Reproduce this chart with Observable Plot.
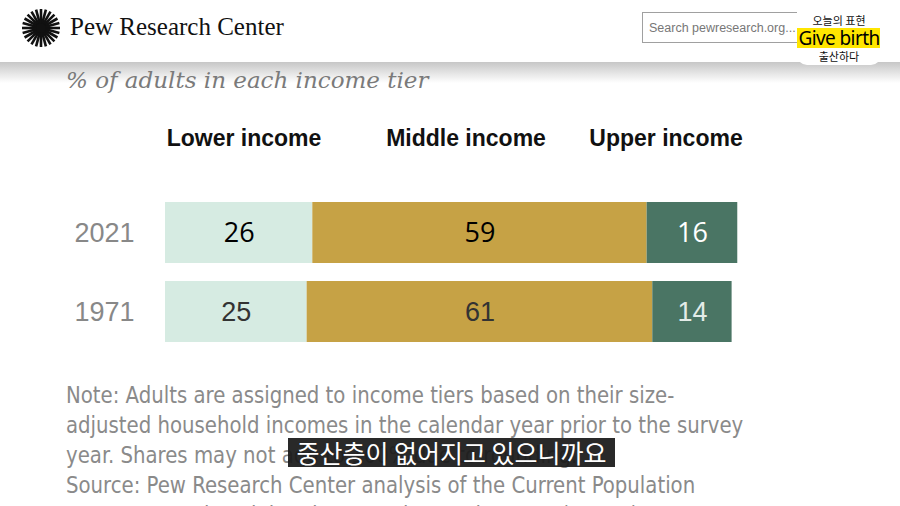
<!DOCTYPE html>
<html>
<head>
<meta charset="utf-8">
<script src="https://cdn.jsdelivr.net/npm/d3@7"></script>
<script src="https://cdn.jsdelivr.net/npm/@observablehq/plot@0.6"></script>
<style>
  html, body { margin:0; padding:0; background:#fff; }
  #page { position:relative; width:900px; height:506px; overflow:hidden; background:#fff; font-family:"Liberation Sans", Arial, sans-serif; }
  .abs { position:absolute; white-space:nowrap; }
  #hdr { position:absolute; left:0; top:0; width:900px; height:62px; background:#fff; }
  #shadow { position:absolute; left:0; top:61px; width:900px; height:22px; background:linear-gradient(#c4c4c4, rgba(255,255,255,0)); }
  .head { position:absolute; top:125px; font-weight:bold; font-size:23px; color:#111; transform:translateX(-50%); white-space:nowrap; }
  .note { position:absolute; left:66px; font-family:"Liberation Sans Narrow","DejaVu Sans Condensed",sans-serif; font-size:23px; line-height:28px; color:#8a8a8a; white-space:nowrap; transform:scaleX(0.953); transform-origin:0 0; }
  #chart { position:absolute; left:0; top:190px; }
</style>
</head>
<body>
<div id="page">
  <div id="shadow"></div>
  <div id="hdr">
    <svg id="logo" class="abs" style="left:21px;top:8px" width="40" height="40" viewBox="-20 -20 40 40"></svg>
    <div class="abs" style="left:70px;top:12px;font-family:'Liberation Serif',serif;font-size:25px;line-height:30px;color:#111;">Pew Research Center</div>
    <div class="abs" style="left:642px;top:12px;width:210px;height:31px;border:1px solid #a0a0a0;box-sizing:border-box;"></div>
    <div class="abs" style="left:649px;top:20px;font-size:12.5px;line-height:16px;color:#777;">Search pewresearch.org...</div>
    <div class="abs" style="left:853px;top:12px;width:25px;height:31px;background:#c8c8c8;"></div>
    <div class="abs" style="left:797px;top:11px;width:84px;height:54px;background:#fff;border-radius:0 0 10px 10px;"></div>
    <div class="abs" style="left:797px;top:13px;width:84px;text-align:center;font-family:'Noto Sans CJK KR',sans-serif;font-size:11px;line-height:14px;color:#111;">오늘의 표현</div>
    <div class="abs" style="left:797px;top:28px;width:83px;height:20px;background:#ffe600;"></div>
    <div class="abs" style="left:797px;top:28px;width:84px;text-align:center;font-family:'Noto Sans',sans-serif;font-size:19px;line-height:20px;color:#000;letter-spacing:-0.6px;">Give birth</div>
    <div class="abs" style="left:797px;top:49px;width:84px;text-align:center;font-family:'Noto Sans CJK KR',sans-serif;font-size:11px;line-height:14px;color:#111;">출산하다</div>
  </div>
  <div class="abs" style="left:66px;top:66px;font-family:'DejaVu Serif',Georgia,serif;font-style:italic;font-size:23px;line-height:28px;color:#7a7a7a;">% of adults in each income tier</div>
  <div id="heads"></div>
  <div id="chart"></div>
  <div id="notes"></div>
  <div class="abs" style="left:288px;top:438px;width:327px;height:29px;background:rgba(25,25,25,0.93);"></div>
  <div class="abs" style="left:288px;top:438px;width:327px;text-align:center;font-family:'Noto Sans CJK KR',sans-serif;font-size:25px;line-height:29px;color:#fff;">중산층이 없어지고 있으니까요</div>
</div>
<script>
// ---- data ----
const years = ["2021", "1971"];
const tiers = ["Lower income", "Middle income", "Upper income"];
const shares2021 = [26, 59, 16];
const shares1971 = [25, 61, 14];
const tierColors = ["#d6ebe2", "#c6a245", "#4a7564"];
const noteLines = [
  "Note: Adults are assigned to income tiers based on their size-",
  "adjusted household incomes in the calendar year prior to the survey",
  "year. Shares may not add to 100% due to rounding.",
  "Source: Pew Research Center analysis of the Current Population",
  "Survey Annual Social and Economic Supplements (IPUMS)."
];

const rows = years.flatMap((y, i) =>
  tiers.map((t, j) => ({ year: y, tier: t, share: (i === 0 ? shares2021 : shares1971)[j] }))
);

// logo
const logo = document.getElementById("logo");
const ns = "http://www.w3.org/2000/svg";
for (let k = 0; k < 24; k++) {
  const a = (k / 24) * 2 * Math.PI;
  const l = document.createElementNS(ns, "line");
  l.setAttribute("x1", 4 * Math.cos(a)); l.setAttribute("y1", 4 * Math.sin(a));
  l.setAttribute("x2", 19 * Math.cos(a)); l.setAttribute("y2", 19 * Math.sin(a));
  l.setAttribute("stroke", "#111"); l.setAttribute("stroke-width", 2.6);
  logo.appendChild(l);
}
const c = document.createElementNS(ns, "circle");
c.setAttribute("r", 5); c.setAttribute("fill", "#111"); logo.appendChild(c);

// column headers
const headX = [244, 466, 666];
const heads = document.getElementById("heads");
tiers.forEach((t, i) => {
  const d = document.createElement("div");
  d.className = "head"; d.style.left = headX[i] + "px"; d.textContent = t;
  heads.appendChild(d);
});

// notes
const notes = document.getElementById("notes");
noteLines.forEach((t, i) => {
  const d = document.createElement("div");
  d.className = "note"; d.style.top = (381 + i * 30) + "px"; d.textContent = t;
  notes.appendChild(d);
});

const labelFill = d => d.tier === "Upper income"
  ? (d.year === "2021" ? "#ffffff" : "#e3ece8")
  : (d.year === "2021" ? "#000000" : "#333333");

const chart = Plot.plot({
  width: 900,
  height: 160,
  marginLeft: 165,
  marginRight: 165,
  marginTop: 12,
  marginBottom: 8,
  style: { fontFamily: "Liberation Sans, Arial, sans-serif", background: "transparent" },
  x: { domain: [0, 100.6], axis: null },
  y: { domain: years, paddingInner: 0.228, paddingOuter: 0, label: null },
  color: { domain: tiers, range: tierColors },
  marks: [
    Plot.barX(rows, Plot.stackX({ x: "share", y: "year", fill: "tier" })),
    Plot.text(rows.filter(d => d.year === "2021"), Plot.stackX({
      x: "share", y: "year", text: d => String(d.share), fill: labelFill,
      fontSize: 27, fontFamily: "Open Sans, sans-serif"
    })),
    Plot.text(rows.filter(d => d.year === "1971"), Plot.stackX({
      x: "share", y: "year", text: d => String(d.share), fill: labelFill,
      fontSize: 27, fontFamily: "Liberation Sans, Arial, sans-serif"
    })),
    Plot.axisY({ tickSize: 0, tickPadding: 31, fontSize: 27, fill: "#888", label: null })
  ]
});
document.getElementById("chart").appendChild(chart);
</script>
</body>
</html>
